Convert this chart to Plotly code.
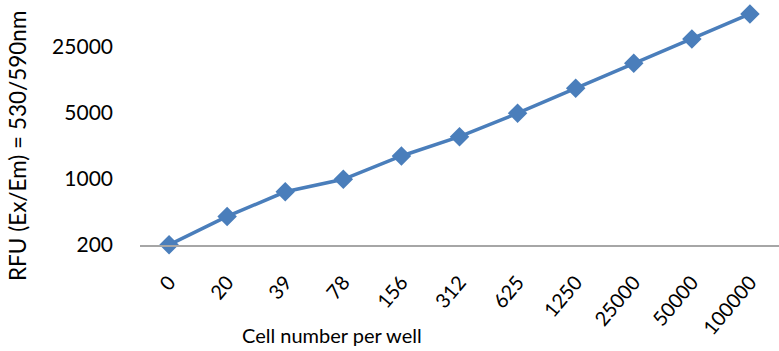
import plotly.graph_objects as go

categories = ["0", "20", "39", "78", "156", "312", "625", "1250", "25000", "50000", "100000"]
rfu_values = [200, 400, 730, 990, 1750, 2800, 4970, 9140, 16800, 30400, 56000]
y_tick_values = [200, 1000, 5000, 25000]
y_tick_labels = ["200", "1000", "5000", "25000"]

FONT = "Lato"

fig = go.Figure()
fig.add_trace(go.Scatter(
    x=categories,
    y=rfu_values,
    mode="lines+markers",
    line=dict(color="#4A7EBB", width=3.5),
    marker=dict(symbol="diamond", size=15, color="#4A7EBB"),
    cliponaxis=False,
    showlegend=False,
    hoverinfo="skip",
))

fig.update_layout(
    width=779,
    height=351,
    margin=dict(l=140, r=0, t=5, b=106),
    plot_bgcolor="white",
    paper_bgcolor="white",
    font=dict(family=FONT, size=21, color="#000000"),
    xaxis=dict(
        type="category",
        range=[-0.5, 10.5],
        automargin=False,
        showgrid=False,
        zeroline=False,
        showline=True,
        linecolor="#A6A6A6",
        linewidth=1.5,
        ticks="",
        tickangle=-50,
        ticklabelstandoff=16,
        tickfont=dict(family=FONT, size=20),
    ),
    yaxis=dict(
        type="log",
        range=[2.2995, 4.843],
        automargin=False,
        showgrid=False,
        zeroline=False,
        showline=False,
        ticks="",
        tickvals=y_tick_values,
        ticktext=y_tick_labels,
        ticklabelstandoff=26,
        tickfont=dict(family=FONT, size=21),
    ),
    annotations=[
        dict(text="Cell number per well", xref="paper", yref="paper",
             x=0.3005, y=-0.375, xanchor="center", yanchor="middle",
             showarrow=False, font=dict(family=FONT, size=20)),
        dict(text="RFU (Ex/Em) = 530/590nm", xref="paper", yref="paper",
             x=-0.1925, y=0.4125, xanchor="center", yanchor="middle",
             textangle=-90, showarrow=False, font=dict(family=FONT, size=22.5)),
    ],
)

fig.write_html(
    "out.html",
    config={"displayModeBar": False},
    post_script="document.body.style.margin='0';document.body.style.padding='0';document.body.style.overflow='hidden';",
)
